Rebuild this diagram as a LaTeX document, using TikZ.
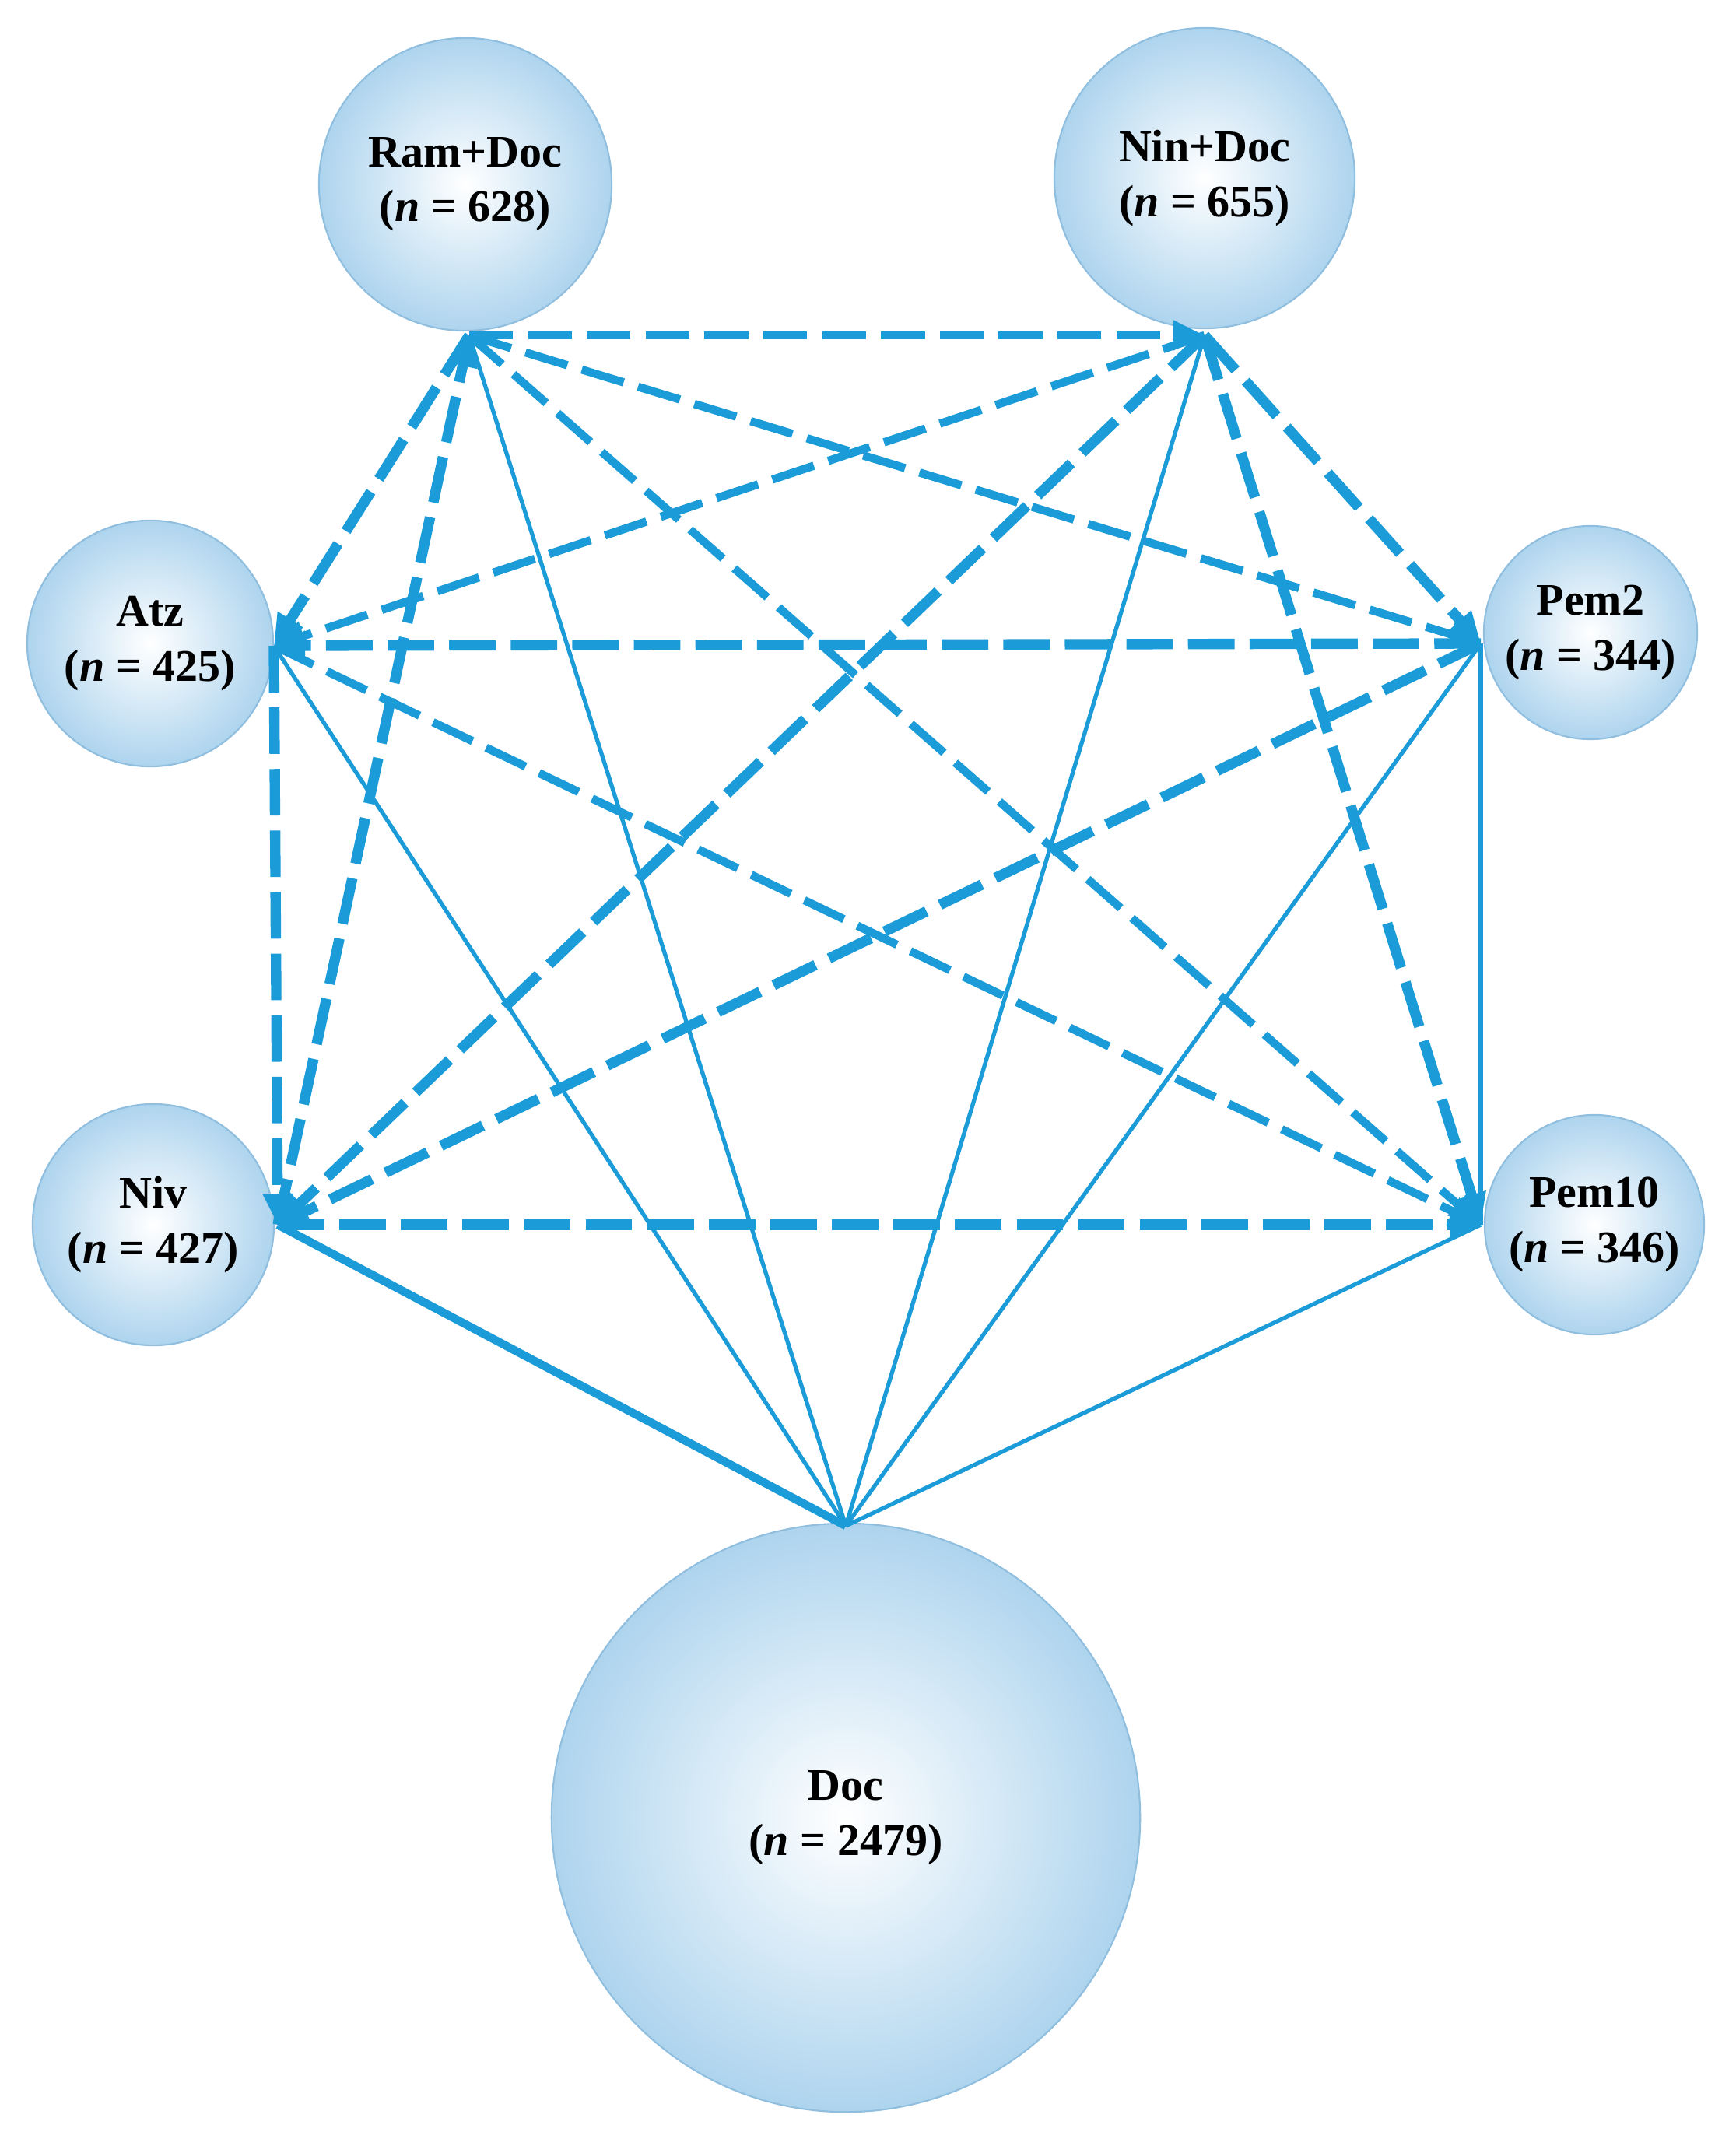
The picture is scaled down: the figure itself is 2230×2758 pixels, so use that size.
\documentclass[tikz,border=0pt]{standalone}
\usepackage{fontspec}
\setmainfont{Liberation Serif}
\usetikzlibrary{arrows.meta,shadings}
\definecolor{edge}{HTML}{1B9BD7}
\definecolor{ball}{HTML}{AED4EE}
\definecolor{rim}{HTML}{8FBEDF}
\begin{document}
\begin{tikzpicture}[x=0.01cm,y=-0.01cm,
  ball/.style={circle,draw=rim,line width=0.6pt,inner color=white,outer color=ball,
     font=\fontsize{16.5}{20}\selectfont\bfseries,align=center,inner sep=0pt},
  thick dash/.style={draw=edge,line width=3.8pt,dash pattern=on 17pt off 5.5pt},
  thin dash/.style={draw=edge,line width=3pt,dash pattern=on 16pt off 5.5pt},
  sol/.style={draw=edge,line width=1.5pt},
  tip/.style={-{Triangle[length=0.4cm,width=0.36cm]}}]
\useasboundingbox (0,0) rectangle (2230,2758);
\node[ball,minimum size=3.76cm] (ram) at (598,237) {Ram+Doc\\(\textit{n} = 628)};
\node[ball,minimum size=3.86cm] (nin) at (1548,229) {Nin+Doc\\(\textit{n} = 655)};
\node[ball,minimum size=3.16cm] (atz) at (193,827) {Atz\\(\textit{n} = 425)};
\node[ball,minimum size=2.74cm] (pem2) at (2044,813) {Pem2\\(\textit{n} = 344)};
\node[ball,minimum size=3.10cm] (niv) at (197,1574) {Niv\\(\textit{n} = 427)};
\node[ball,minimum size=2.82cm] (pem10) at (2049,1574) {Pem10\\(\textit{n} = 346)};
\node[ball,minimum size=7.56cm] (doc) at (1087,2336) {Doc\\(\textit{n} = 2479)};
\coordinate (r) at (603,431);
\coordinate (n) at (1548,431);
\coordinate (a) at (352,830);
\coordinate (p) at (1903,827);
\coordinate (v) at (357,1574);
\coordinate (q) at (1903,1574);
\coordinate (d) at (1087,1961);
% solid lines from Doc
\draw[draw=edge,line width=3pt] (d) -- (v);
\draw[sol] (d) -- (a);
\draw[sol] (d) -- (r);
\draw[sol] (d) -- (n);
\draw[sol] (d) -- (p);
\draw[sol] (d) -- (q);
\draw[sol] (p) -- (q);
% dashed
\draw[thin dash,tip] (r) -- (n);
\draw[thin dash,tip] (r) -- (p);
\draw[thin dash,tip] (r) -- (q);
\draw[thin dash,tip] (n) -- (a);
\draw[thin dash,tip] (a) -- (q);
\draw[thick dash,tip] (r) -- (a);
\draw[thick dash,tip] (v) -- (r);
\draw[thick dash,tip] (n) -- (v);
\draw[thick dash,tip] (n) -- (p);
\draw[thick dash,tip] (n) -- (q);
\draw[thick dash,tip] (p) -- (a);
\draw[thick dash,tip] (a) -- (v);
\draw[thick dash,tip] (p) -- (v);
\draw[thick dash,tip] (v) -- (q);
\end{tikzpicture}
\end{document}
